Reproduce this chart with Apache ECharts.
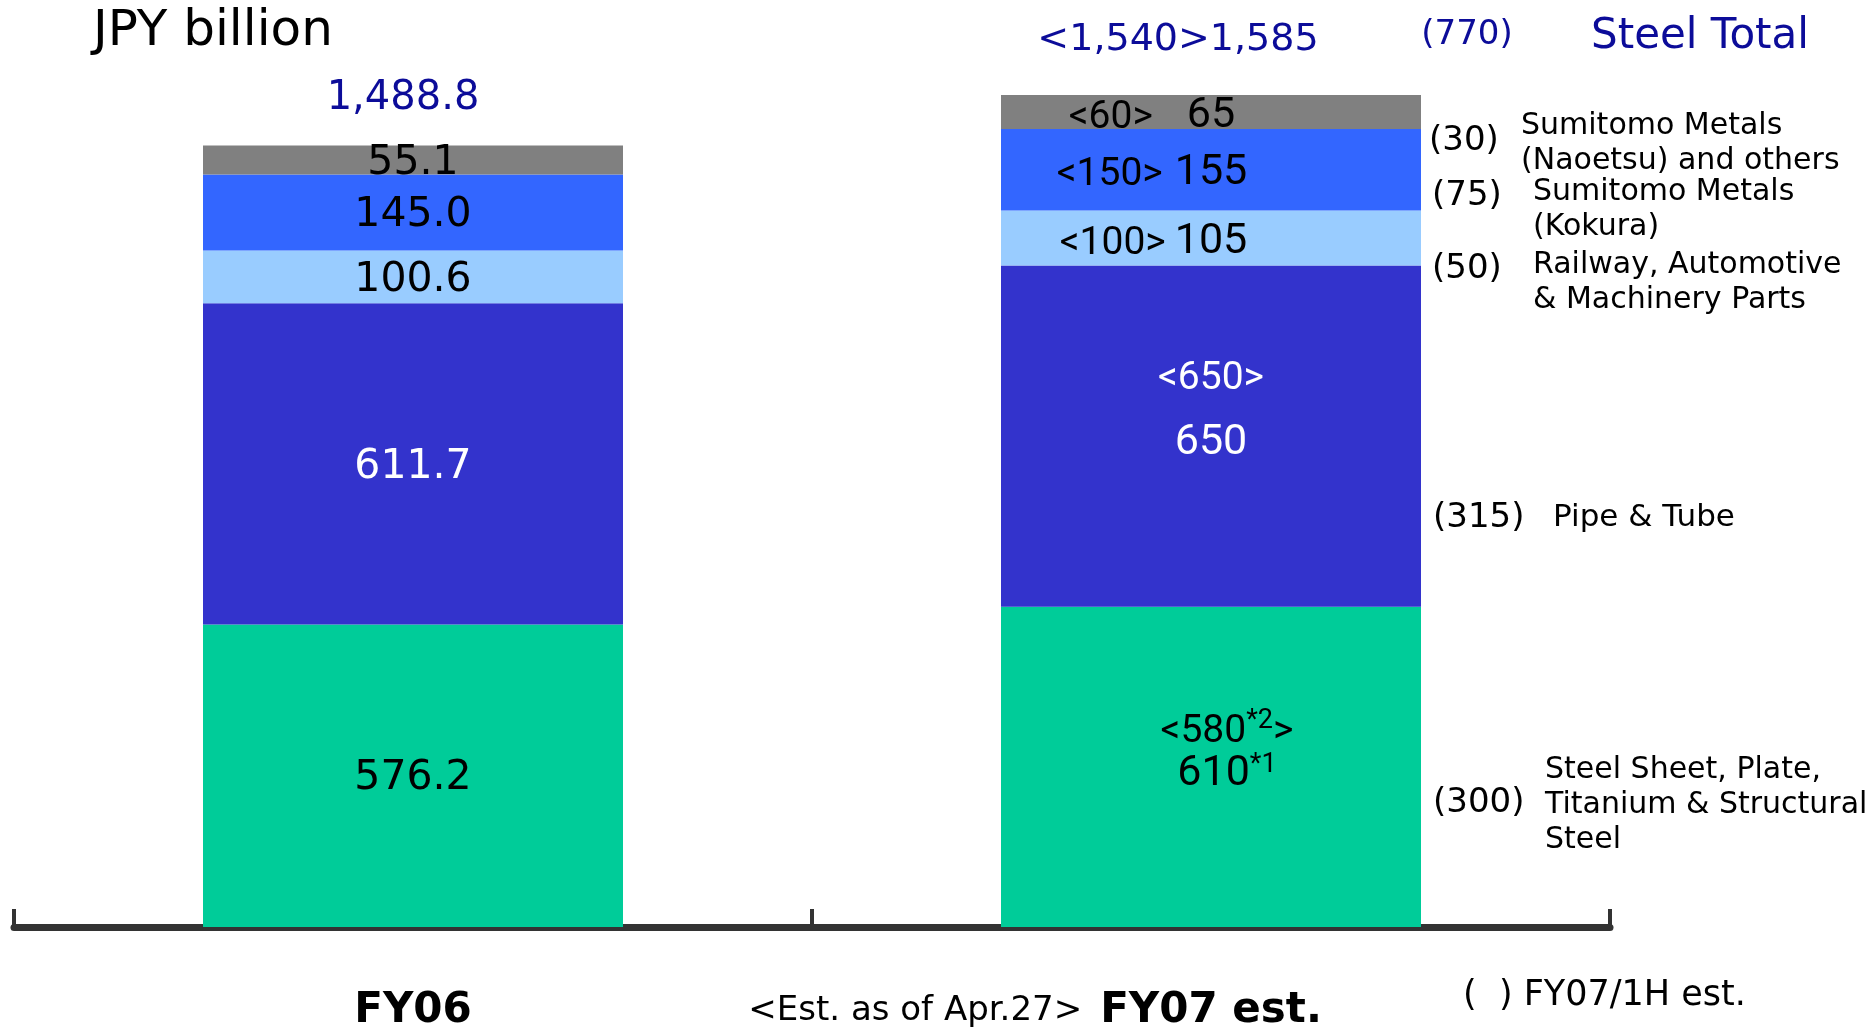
<!DOCTYPE html>
<html>
<head>
<meta charset="utf-8">
<title>Steel sales by segment</title>
<script src="https://cdn.jsdelivr.net/npm/echarts@6/dist/echarts.min.js"></script>
<style>
  html, body { margin: 0; padding: 0; background: #fff; }
  #chart { width: 1874px; height: 1032px; }
</style>
</head>
<body>
<div id="chart"></div>
<script>
// categories
var years = ['FY06', 'FY07 est.'];
var estNote = '<Est. as of Apr.27>';
// segments, bottom to top
var segments = [
    'Steel Sheet, Plate,\nTitanium & Structural\nSteel',
    'Pipe & Tube',
    'Railway, Automotive\n& Machinery Parts',
    'Sumitomo Metals\n(Kokura)',
    'Sumitomo Metals\n(Naoetsu) and others'
];
// values (JPY billion)
var fy06 = [576.2, 611.7, 100.6, 145.0, 55.1];
var fy07 = [610, 650, 105, 155, 65];
var fy07Notes = ['*1', '', '', '', ''];
// <Est. as of Apr.27>
var fy07Prev = [580, 650, 100, 150, 60];
var fy07PrevNotes = ['*2', '', '', '', ''];
// ( ) FY07/1H est.
var fy07H1 = [300, 315, 50, 75, 30];
var totals = [1488.8, 1585];
var fy07PrevTotal = 1540;
var fy07H1Total = 770;

var colors = ['#00cc99', '#3333cc', '#99ccff', '#3366ff', '#808080'];
var FONT = 'DejaVu Sans';
var FONT2 = 'Roboto';
var NAVY = '#0c0c99';

//文字宽度
var ctx = document.createElement('canvas').getContext('2d');
function textWidth(text, size, family, weight) {
    ctx.font = (weight || 'normal') + ' ' + size + 'px "' + (family || FONT) + '"';
    return ctx.measureText(text).width;
}

//gap between <prev> and value for the three small segments
var gaps = [0, 0, 9, 12, 34];

function buildSeries(i) {
    var txtColor = i === 1 ? '#fff' : '#000';
    var rich = {
        b: { fontFamily: FONT2, fontSize: 43, color: txtColor, verticalAlign: 'bottom' },
        s: { fontFamily: FONT2, fontSize: 39, color: txtColor, verticalAlign: 'bottom' },
        //上标
        sup: { fontFamily: FONT2, fontSize: 27, color: '#000', verticalAlign: 'bottom', padding: [0, 0, 17, 0] }
    };
    var prevText = '<' + fy07Prev[i] + '>';
    var w = textWidth(prevText, 39, FONT2) + gaps[i];
    rich.l = { fontFamily: FONT2, fontSize: 39, color: '#000', width: w, align: 'left', verticalAlign: 'bottom' };
    rich.r = { width: w, align: 'right' };
    var fy07Item = { value: fy07[i], label: { offset: [0, 4] } };
    if (i === 1) {
        rich.s.lineHeight = 64;
        rich.b.lineHeight = 64;
        rich.s.verticalAlign = 'middle';
        rich.b.verticalAlign = 'middle';
        fy07Item.label = { offset: [0, -25] };
    } else if (i === 0) {
        rich.s.lineHeight = 40;
        rich.b.lineHeight = 40;
        fy07Item.label = { offset: [16, -15] };
    }
    return {
        name: segments[i],
        type: 'bar',
        stack: 'total',
        barWidth: 420,
        itemStyle: { color: colors[i] },
        label: {
            show: true,
            position: 'inside',
            offset: [0, 3],
            fontFamily: FONT,
            fontSize: 41,
            color: txtColor,
            formatter: function (p) {
                if (p.dataIndex === 0) {
                    return fy06[i].toFixed(1);
                }
                if (i <= 1) {
                    var top = '{s|<' + fy07Prev[i] + '}' +
                        (fy07PrevNotes[i] ? '{sup|' + fy07PrevNotes[i] + '}' : '') + '{s|>}';
                    var bot = '{b|' + fy07[i] + '}' +
                        (fy07Notes[i] ? '{sup|' + fy07Notes[i] + '}' : '');
                    return top + '\n' + bot;
                }
                return '{l|' + prevText + '}{b|' + fy07[i] + '}{r|}';
            },
            rich: rich
        },
        data: [fy06[i], fy07Item]
    };
}

var series = [];
for (var i = 0; i < segments.length; i++) {
    series.push(buildSeries(i));
}

//合计
series.push({
    type: 'scatter',
    symbolSize: 1,
    silent: true,
    itemStyle: { color: 'rgba(0,0,0,0)', opacity: 1 },
    label: {
        show: true,
        position: 'top',
        fontFamily: FONT,
        fontSize: 38,
        color: NAVY,
        opacity: 1,
        formatter: function (p) {
            var t = echarts.format.addCommas(totals[p.dataIndex]);
            if (p.dataIndex === 1) {
                t = '<' + echarts.format.addCommas(fy07PrevTotal) + '>' + t;
            }
            return t;
        }
    },
    data: [
        { value: totals[0], label: { distance: 26, offset: [-10, 0], fontSize: 40 } },
        { value: totals[1], label: { distance: 35, offset: [-33, 0] } }
    ]
});

//右侧注释
var parenPos = [[1433, 803], [1433, 518], [1432, 269], [1432, 196], [1429, 141]];
var namePos = [[1545, 805], [1553, 518], [1533, 283], [1533, 210], [1521, 144]];
var graphics = [
    { type: 'text', x: 93, y: 32, style: { text: 'JPY billion', fontFamily: FONT, fontSize: 50, fill: '#000', align: 'left', verticalAlign: 'middle' } },
    { type: 'text', x: 1467, y: 35, style: { text: '(' + fy07H1Total + ')', fontFamily: FONT, fontSize: 34, fill: NAVY, align: 'center', verticalAlign: 'middle' } },
    { type: 'text', x: 1700, y: 37, style: { text: 'Steel Total', fontFamily: FONT, fontSize: 42, fill: NAVY, align: 'center', verticalAlign: 'middle' } },
    { type: 'text', x: 1463, y: 996, style: { text: '(  ) FY07/1H est.', fontFamily: FONT, fontSize: 35, fill: '#000', align: 'left', verticalAlign: 'middle' } }
];
for (var j = 0; j < segments.length; j++) {
    graphics.push({ type: 'text', x: parenPos[j][0], y: parenPos[j][1], style: { text: '(' + fy07H1[j] + ')', fontFamily: FONT, fontSize: 34, fill: '#000', align: 'left', verticalAlign: 'middle' } });
    graphics.push({ type: 'text', x: namePos[j][0], y: namePos[j][1], style: { text: segments[j], fontFamily: FONT, fontSize: j === 1 ? 31 : 30, lineHeight: 35, fill: '#000', align: 'left', verticalAlign: 'middle' } });
}

var estW = textWidth(estNote, 34) + 18;

var chart = echarts.init(document.getElementById('chart'));
chart.setOption({
    animation: false,
    grid: { left: 14, right: 264, top: 87, height: 846 },
    xAxis: {
        type: 'category',
        data: years,
        offset: 4,
        axisLine: { lineStyle: { color: '#333', width: 7 } },
        axisTick: { show: true, inside: true, length: 18, lineStyle: { color: '#333', width: 4 } },
        axisLabel: {
            interval: 0,
            margin: 55,
            formatter: function (v, idx) {
                if (idx === 1) {
                    return '{s|' + estNote + '}{b|' + v + '}{p|}';
                }
                return '{b|' + v + '}';
            },
            rich: {
                b: { fontFamily: FONT, fontSize: 42, fontWeight: 'bold', color: '#000', lineHeight: 50 },
                s: { fontFamily: FONT, fontSize: 34, color: '#000', width: estW, align: 'left', lineHeight: 50 },
                p: { width: estW, align: 'right' }
            }
        }
    },
    yAxis: {
        type: 'value',
        min: 0,
        max: 1600,
        show: false,
        splitLine: { show: false }
    },
    graphic: graphics,
    series: series
});
</script>
</body>
</html>
